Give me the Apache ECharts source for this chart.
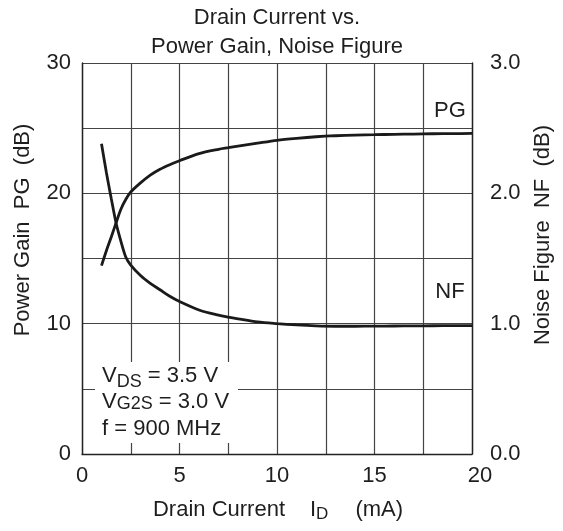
<!DOCTYPE html>
<html>
<head>
<meta charset="utf-8">
<script src="https://cdn.jsdelivr.net/npm/echarts@6/dist/echarts.min.js"></script>
<style>
html,body{margin:0;padding:0;background:#fff;}
#chart{width:563px;height:531px;}
</style>
</head>
<body>
<div id="chart"></div>
<script>
// Drain current (mA)
const current = [1.0, 1.25, 1.5, 1.75, 2.0, 2.25, 2.5, 3.0, 3.5, 4.0, 4.5, 5.0, 6.0, 7.0, 7.5, 8.0, 9.0, 10, 11, 12, 13, 14, 15, 16, 17, 18, 19, 20];
// Power gain PG (dB), left axis
const pgValues = [14.45, 15.6, 16.65, 17.75, 18.8, 19.55, 20.1, 20.8, 21.4, 21.85, 22.2, 22.5, 23.05, 23.38, 23.5, 23.62, 23.85, 24.07, 24.22, 24.34, 24.42, 24.47, 24.5, 24.53, 24.55, 24.57, 24.58, 24.6];
// Noise figure NF (dB), right axis
const nfValues = [2.38, 2.16, 1.96, 1.77, 1.63, 1.51, 1.45, 1.37, 1.31, 1.26, 1.21, 1.17, 1.105, 1.065, 1.05, 1.037, 1.013, 1.0, 0.99, 0.983, 0.98, 0.98, 0.981, 0.982, 0.983, 0.984, 0.985, 0.985];
// Tick labels
const xTickLabels = [0, 5, 10, 15, 20];
const pgTickLabels = [0, 10, 20, 30];
const nfTickLabels = [0.0, 1.0, 2.0, 3.0];

const FONT = "'Liberation Sans', Arial, Helvetica, sans-serif";
const TXT = '#1e1e1e';
const GRID = '#444';

const chart = echarts.init(document.getElementById('chart'), null, {renderer: 'canvas'});

const option = {
  animation: false,
  backgroundColor: '#fff',
  grid: {left: 82, right: 91, top: 63, bottom: 77, containLabel: false},
  xAxis: {
    type: 'value', min: 0, max: 20, interval: 2.5,
    axisLine: {show: true, lineStyle: {color: '#222', width: 1.4}},
    axisTick: {show: false},
    splitLine: {show: true, lineStyle: {color: GRID, width: 1.2}},
    axisLabel: {
      margin: 11, color: TXT, fontSize: 22, fontFamily: FONT,
      formatter: v => {
        if (!xTickLabels.some(t => Math.abs(t - v) < 1e-9)) return '';
        if (v === 20) return '{r|' + v + '}';
        return String(v);
      },
      rich: {r: {fontSize: 22, fontFamily: FONT, color: TXT, padding: [0, 0, 0, 16]}}
    }
  },
  yAxis: [
    {
      type: 'value', min: 0, max: 30, interval: 5, position: 'left',
      axisLine: {show: true, lineStyle: {color: '#222', width: 1.4}},
      axisTick: {show: false},
      splitLine: {show: true, lineStyle: {color: GRID, width: 1.2}},
      axisLabel: {
        margin: 11, color: TXT, fontSize: 22, fontFamily: FONT,
        formatter: v => pgTickLabels.some(t => Math.abs(t - v) < 1e-9) ? String(v) : ''
      }
    },
    {
      type: 'value', min: 0, max: 3, interval: 0.5, position: 'right',
      axisLine: {show: true, lineStyle: {color: '#222', width: 1.4}},
      axisTick: {show: false},
      splitLine: {show: false},
      axisLabel: {
        margin: 18, color: TXT, fontSize: 22, fontFamily: FONT,
        formatter: v => nfTickLabels.some(t => Math.abs(t - v) < 1e-9) ? v.toFixed(1) : ''
      }
    }
  ],
  series: [
    {
      name: 'PG', type: 'line', yAxisIndex: 0, smooth: 0.3, showSymbol: false, z: 5,
      lineStyle: {color: '#1a1a1a', width: 2.8},
      data: current.map((x, i) => [x, pgValues[i]])
    },
    {
      name: 'NF', type: 'line', yAxisIndex: 1, smooth: 0.3, showSymbol: false, z: 5,
      lineStyle: {color: '#1a1a1a', width: 2.8},
      data: current.map((x, i) => [x, nfValues[i]])
    }
  ],
  graphic: [
    {type: 'text', x: 277, y: 18, z: 10, style: {text: 'Drain Current vs.', font: '22px ' + FONT, fill: TXT, textAlign: 'center', textVerticalAlign: 'middle'}},
    {type: 'text', x: 277, y: 47, z: 10, style: {text: 'Power Gain, Noise Figure', font: '22px ' + FONT, fill: TXT, textAlign: 'center', textVerticalAlign: 'middle'}},
    {type: 'text', x: 23, y: 230, rotation: Math.PI / 2, z: 10, style: {text: 'Power Gain  PG  (dB)', font: '22px ' + FONT, fill: TXT, textAlign: 'center', textVerticalAlign: 'middle'}},
    {type: 'text', x: 543, y: 235, rotation: Math.PI / 2, z: 10, style: {text: 'Noise Figure  NF  (dB)', font: '22px ' + FONT, fill: TXT, textAlign: 'center', textVerticalAlign: 'middle'}},
    {type: 'text', x: 278, y: 510, z: 10, style: {
      text: '{a|Drain Current}{g|}{a|I}{s|D}{h|}{a|(mA)}',
      textAlign: 'center', textVerticalAlign: 'middle', fill: TXT,
      rich: {
        a: {fontSize: 22, fontFamily: FONT, fill: TXT, lineHeight: 26, verticalAlign: 'middle'},
        s: {fontSize: 17, fontFamily: FONT, fill: TXT, lineHeight: 17, verticalAlign: 'bottom'},
        g: {width: 25, lineHeight: 26},
        h: {width: 27, lineHeight: 26}
      }
    }},
    {type: 'text', x: 450, y: 111, z: 10, style: {text: 'PG', font: '22px ' + FONT, fill: TXT, textAlign: 'center', textVerticalAlign: 'middle'}},
    {type: 'text', x: 450, y: 292, z: 10, style: {text: 'NF', font: '22px ' + FONT, fill: TXT, textAlign: 'center', textVerticalAlign: 'middle'}},
    {type: 'rect', z: 8, shape: {x: 95, y: 362, width: 143, height: 81}, style: {fill: '#fff'}},
    {type: 'text', x: 102, y: 376, z: 10, style: {
      text: '{a|V}{s|DS}{a| = 3.5 V}', textAlign: 'left', textVerticalAlign: 'middle', fill: TXT,
      rich: {
        a: {fontSize: 22, fontFamily: FONT, fill: TXT, lineHeight: 30, verticalAlign: 'middle'},
        s: {fontSize: 18, fontFamily: FONT, fill: TXT, lineHeight: 18, verticalAlign: 'bottom'}
      }
    }},
    {type: 'text', x: 102, y: 401, z: 10, style: {
      text: '{a|V}{s|G2S}{a| = 3.0 V}', textAlign: 'left', textVerticalAlign: 'middle', fill: TXT,
      rich: {
        a: {fontSize: 22, fontFamily: FONT, fill: TXT, lineHeight: 24, verticalAlign: 'bottom'},
        s: {fontSize: 18, fontFamily: FONT, fill: TXT, lineHeight: 20, verticalAlign: 'bottom'}
      }
    }},
    {type: 'text', x: 102, y: 429, z: 10, style: {text: 'f = 900 MHz', font: '22px ' + FONT, fill: TXT, textAlign: 'left', textVerticalAlign: 'middle'}}
  ]
};
chart.setOption(option);
</script>
</body>
</html>
